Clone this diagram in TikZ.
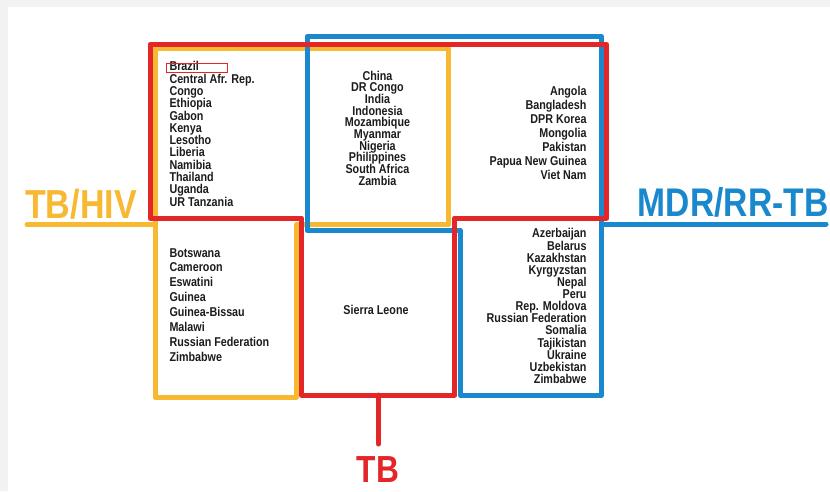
\documentclass[tikz,border=0pt]{standalone}
\usepackage{fontspec}
\setmainfont{Liberation Sans}[FakeStretch=0.84]
\definecolor{tbred}{RGB}{227,38,40}
\definecolor{tbyellow}{RGB}{247,184,50}
\definecolor{tbblue}{RGB}{26,136,204}
\definecolor{txt}{RGB}{28,28,28}
\definecolor{bggray}{RGB}{242,242,242}
\setlength{\lineskiplimit}{-20pt}
\begin{document}
\begin{tikzpicture}[x=1pt,y=-1pt,
  frame/.style={line width=5pt, line join=round, line cap=round},
  lst/.style={inner sep=0pt, text=txt},
  lfont/.style={font=\bfseries\fontsize{12.8}{#1}\selectfont},
  hdr/.style={inner sep=0pt, font=\bfseries\fontsize{#1}{#1}\selectfont}]
\useasboundingbox (0,0) rectangle (830,491);
\fill[white] (0,0) rectangle (830,491);
\fill[bggray] (0,0) rectangle (830,7);
\fill[bggray] (0,7) rectangle (8,491);

% named coordinates for the lead lines
\coordinate (hivA) at (27,224.5);
\coordinate (hivB) at (155,224.5);
\coordinate (mdrA) at (601.5,224);
\coordinate (mdrB) at (826,224);
\coordinate (tbA) at (378.5,395);
\coordinate (tbB) at (378.5,444);

% TB/HIV (yellow)
\draw[frame, tbyellow] (155,48.5) -- (448.5,48.5) -- (448.5,224.5) -- (296.5,224.5)
  -- (296.5,397) -- (155,397) -- cycle;
\draw[frame, tbyellow] (hivA) -- (hivB);

% MDR/RR-TB (blue)
\draw[frame, tbblue] (307,36.5) -- (601.5,36.5) -- (601.5,395.5) -- (460.5,395.5)
  -- (460.5,230.5) -- (307,230.5) -- cycle;
\draw[frame, tbblue] (mdrA) -- (mdrB);

% TB (red)
\draw[frame, tbred] (150,44.5) -- (606.5,44.5) -- (606.5,218) -- (454.5,218)
  -- (454.5,395) -- (301.5,395) -- (301.5,218) -- (150,218) -- cycle;
\draw[frame, tbred] (tbA) -- (tbB);

% headers
\node[hdr=40.5, text=tbyellow, anchor=base west] (hiv) at (25,218) {TB/HIV};
\node[hdr=40, text=tbblue, anchor=base east] (mdr) at (828.5,216.7) {MDR/RR-TB};
\node[hdr=37.7, text=tbred, anchor=base] (tb) at (378,482) {TB};

% lists
\node[lst, lfont=12.3, anchor=north west, align=left] (tl) at (169.3,61.4)
  {Brazil\\Central Afr. Rep.\\Congo\\Ethiopia\\Gabon\\Kenya\\Lesotho\\Liberia\\Namibia\\Thailand\\Uganda\\UR Tanzania};
\node[lst, lfont=11.67, anchor=north, align=center] (tc) at (377.5,70.7)
  {China\\DR Congo\\India\\Indonesia\\Mozambique\\Myanmar\\Nigeria\\Philippines\\South Africa\\Zambia};
\node[lst, lfont=13.9, anchor=north east, align=right] (tr) at (586.7,86.4)
  {Angola\\Bangladesh\\DPR Korea\\Mongolia\\Pakistan\\Papua New Guinea\\Viet Nam};
\node[lst, lfont=14.9, anchor=north west, align=left] (bl) at (169.3,248)
  {Botswana\\Cameroon\\Eswatini\\Guinea\\Guinea-Bissau\\Malawi\\Russian Federation\\Zimbabwe};
\node[lst, lfont=12.8, anchor=base] (bc) at (376,314.3) {Sierra Leone};
\node[lst, lfont=12.13, anchor=north east, align=right] (br) at (586.7,228.4)
  {Azerbaijan\\Belarus\\Kazakhstan\\Kyrgyzstan\\Nepal\\Peru\\Rep. Moldova\\Russian Federation\\Somalia\\Tajikistan\\Ukraine\\Uzbekistan\\Zimbabwe};

% highlight around Brazil
\node[draw=tbred, line width=1pt, inner sep=0pt, minimum width=61pt, minimum height=9pt] (hl) at (196.5,67.5) {};
\end{tikzpicture}
\end{document}
